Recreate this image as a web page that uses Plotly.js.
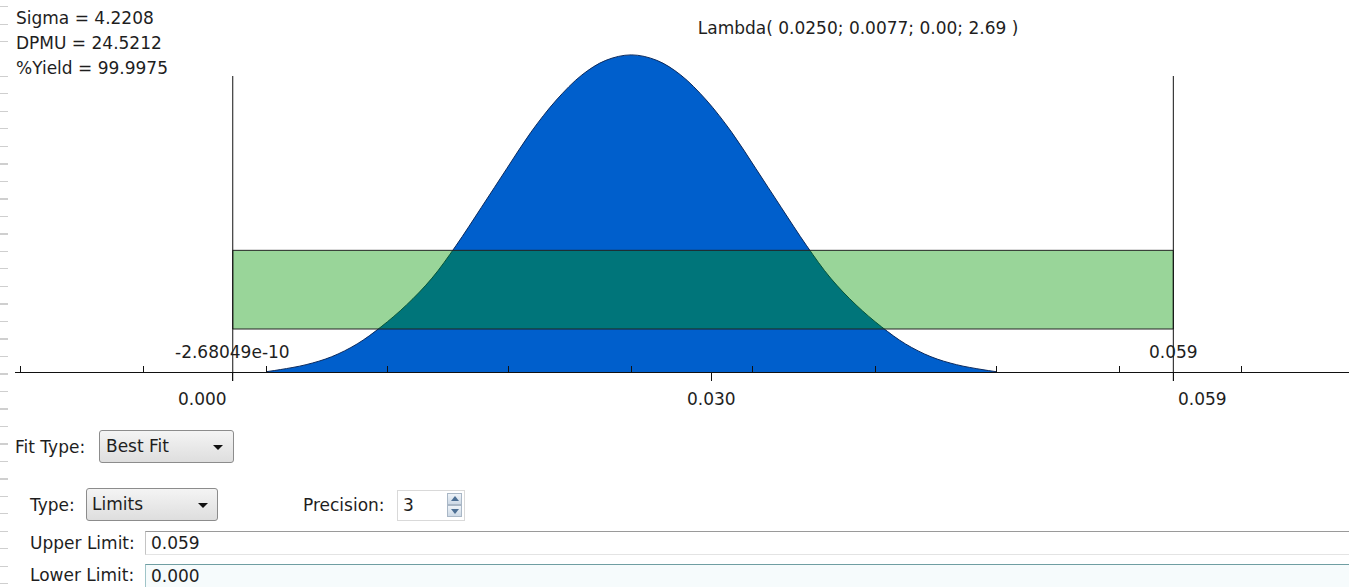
<!DOCTYPE html>
<html>
<head>
<meta charset="utf-8">
<script src="https://cdn.plot.ly/plotly-3.0.1.min.js"></script>
<style>
  html, body { margin:0; padding:0; background:#fff; width:1349px; height:587px; overflow:hidden; }
  body { position:relative; font-family:"DejaVu Sans", sans-serif; font-size:17px; color:#1e1e1e; }
  #chart { position:absolute; left:0; top:0; width:1349px; height:420px; }
  .ruler { position:absolute; left:0; top:0; width:8px; height:587px;
           background:repeating-linear-gradient(to bottom, transparent 0px, transparent 6px, #cfcfcf 6px, #cfcfcf 7px, transparent 7px, transparent 17.5px); }
  .lbl { position:absolute; height:20px; line-height:20px; white-space:nowrap; }
  .combo { position:absolute; box-sizing:border-box; border:1px solid #8c8c8c; border-radius:3px;
           background:linear-gradient(#f4f4f4, #dedede); line-height:31px; white-space:nowrap; }
  .combo .arrow { position:absolute; top:14px; width:0; height:0;
           border-left:5px solid transparent; border-right:5px solid transparent; border-top:5px solid #111; }
  .spin { position:absolute; box-sizing:border-box; border:1px solid #d9d9d9; background:#fff; line-height:29px; }
  .spinbtn { position:absolute; box-sizing:border-box; width:15px; height:12px; border:1px solid #a9b7c6;
             background:linear-gradient(#eef3f8, #cdd9e6); }
  .spinbtn .t { position:absolute; left:3px; width:0; height:0; border-left:4px solid transparent; border-right:4px solid transparent; }
  .field { position:absolute; box-sizing:border-box; right:0; line-height:22px; padding-left:5px; }
</style>
</head>
<body>
<div class="ruler"></div>
<div id="chart"></div>

<div class="lbl" style="left:15px; top:437px;">Fit Type:</div>
<div class="combo" style="left:99px; top:430px; width:135px; height:33px; padding-left:6px;">Best Fit<span class="arrow" style="left:113px;"></span></div>

<div class="lbl" style="left:30px; top:495px;">Type:</div>
<div class="combo" style="left:86px; top:488px; width:132px; height:33px; padding-left:5px;">Limits<span class="arrow" style="left:111px;"></span></div>

<div class="lbl" style="left:303px; top:495px;">Precision:</div>
<div class="spin" style="left:397px; top:490px; width:68px; height:31px; padding-left:5px;">3
  <div class="spinbtn" style="left:49px; top:2px;"><span class="t" style="top:2px; border-bottom:5px solid #4d6f94;"></span></div>
  <div class="spinbtn" style="left:49px; top:14px;"><span class="t" style="top:3px; border-top:5px solid #4d6f94;"></span></div>
</div>

<div class="lbl" style="left:30px; top:533px;">Upper Limit:</div>
<div class="field" style="left:145px; top:531px; height:24px; border-top:1px solid #9a9a9a; border-left:1px solid #c4c4c4; border-bottom:1px solid #e4e4e4; background:#fff;">0.059</div>

<div class="lbl" style="left:30px; top:565px;">Lower Limit:</div>
<div class="field" style="left:145px; top:564px; height:24px; border-top:1px solid #6f9ea2; border-left:1px solid #9fc4c8; background:#f6fbfc;">0.000</div>

<script>
// ---------------- data ----------------
const distName = 'Lambda';
const distParams = [0.0250, 0.0077, 0.00, 2.69];
const distParamDigits = [4, 4, 2, 2];

const statLabels = ['Sigma', 'DPMU', '%Yield'];
const statValues = [4.2208, 24.5212, 99.9975];

// fitted density curve (x value, relative density)
const curveX = [0.0021, 0.0030, 0.0046, 0.0062, 0.0078, 0.0093, 0.0109, 0.0125, 0.0140, 0.0156,
                0.0172, 0.0187, 0.0203, 0.0219, 0.0234, 0.0250, 0.0266, 0.0281, 0.0297, 0.0313,
                0.0328, 0.0344, 0.0360, 0.0375, 0.0391, 0.0407, 0.0422, 0.0438, 0.0454, 0.0470, 0.0479];
const curveY = [0.05, 0.4, 1.2, 2.5, 4.6, 7.4, 11.0, 15.4, 20.7, 27.0,
                33.4, 39.3, 44.6, 48.7, 51.1, 52.0, 51.1, 48.7, 44.6, 39.3,
                33.4, 27.0, 20.7, 15.4, 11.0, 7.4, 4.6, 2.5, 1.2, 0.4, 0.05];

// specification limits and their labels
const specLimits = [0.000, 0.059];
const specLabels = ['-2.68049e-10', '0.059'];

// green band (spec window) height range
const bandY = [7.05, 19.95];

// axis ticks
const majorTicks = [0.000, 0.030, 0.059];
const majorTickLabels = ['0.000', '0.030', '0.059'];
const sigmaTicks = [-0.0133, -0.0056, 0.0021, 0.0097, 0.0173, 0.0250, 0.0326, 0.0403, 0.0479, 0.0556, 0.0633];

// ---------------- styling ----------------
const FONT = 'DejaVu Sans, sans-serif';
const TXT = '#1e1e1e';
const tickAnchors = ['right', 'center', 'left'];
const tickShifts = [-4, 0, 3];

const titleText = distName + '( ' + distParams.map((v, i) => v.toFixed(distParamDigits[i])).join('; ') + ' )';

const annotations = [];
statLabels.forEach((lab, i) => {
  annotations.push({
    text: lab + ' = ' + statValues[i].toFixed(4),
    xref: 'paper', yref: 'paper', x: -0.001, y: 1 - (18 + 25 * i) / 372,
    xanchor: 'left', yanchor: 'middle', showarrow: false,
    font: {family: FONT, size: 17, color: TXT}
  });
});
specLimits.forEach((v, i) => {
  annotations.push({
    text: specLabels[i], xref: 'x', yref: 'paper', x: v, y: 20.5 / 372,
    xanchor: 'center', yanchor: 'middle', showarrow: false,
    font: {family: FONT, size: 17, color: TXT}
  });
});
majorTicks.forEach((v, i) => {
  annotations.push({
    text: majorTickLabels[i], xref: 'x', yref: 'paper', x: v, y: -26.5 / 372,
    xanchor: tickAnchors[i], xshift: tickShifts[i], yanchor: 'middle', showarrow: false,
    font: {family: FONT, size: 17, color: TXT}
  });
});

const shapes = [
  {type: 'rect', layer: 'above', xref: 'x', yref: 'y',
   x0: specLimits[0], x1: specLimits[1], y0: bandY[0], y1: bandY[1],
   fillcolor: 'rgba(0,150,0,0.4)', line: {color: '#222', width: 1}}
];
specLimits.forEach(v => {
  shapes.push({type: 'line', layer: 'above', xref: 'x', yref: 'paper',
    x0: v, x1: v, y0: -9 / 372, y1: 296 / 372, line: {color: '#111', width: 1}});
});

const traces = [{
  type: 'scatter', mode: 'lines', x: curveX, y: curveY,
  fill: 'tozeroy', fillcolor: '#005fcc',
  line: {color: '#0b2a5e', width: 1, shape: 'spline', smoothing: 1},
  hoverinfo: 'skip', showlegend: false
}];

const layout = {
  width: 1349, height: 420,
  margin: {l: 15, r: 0, t: 0, b: 48},
  paper_bgcolor: 'rgba(0,0,0,0)', plot_bgcolor: 'rgba(0,0,0,0)',
  font: {family: FONT, size: 17, color: TXT},
  showlegend: false,
  title: {text: titleText, font: {family: FONT, size: 17, color: TXT},
          xref: 'paper', x: 0.632, xanchor: 'center', yref: 'container', y: 1 - 28 / 420, yanchor: 'middle'},
  xaxis: {
    range: [-0.01366, 0.07002], showgrid: false, zeroline: false,
    showline: true, linecolor: '#111', linewidth: 1,
    tickmode: 'array', tickvals: majorTicks, ticks: 'outside', ticklen: 8, tickcolor: '#111', tickwidth: 1,
    showticklabels: false,
    minor: {tickmode: 'array', tickvals: sigmaTicks, ticks: 'inside', ticklen: 6, tickcolor: '#111', tickwidth: 1, showgrid: false}
  },
  yaxis: {range: [0, 61], visible: false, showgrid: false, zeroline: false},
  annotations: annotations,
  shapes: shapes
};

Plotly.newPlot('chart', traces, layout, {staticPlot: true, displayModeBar: false});
</script>
</body>
</html>
